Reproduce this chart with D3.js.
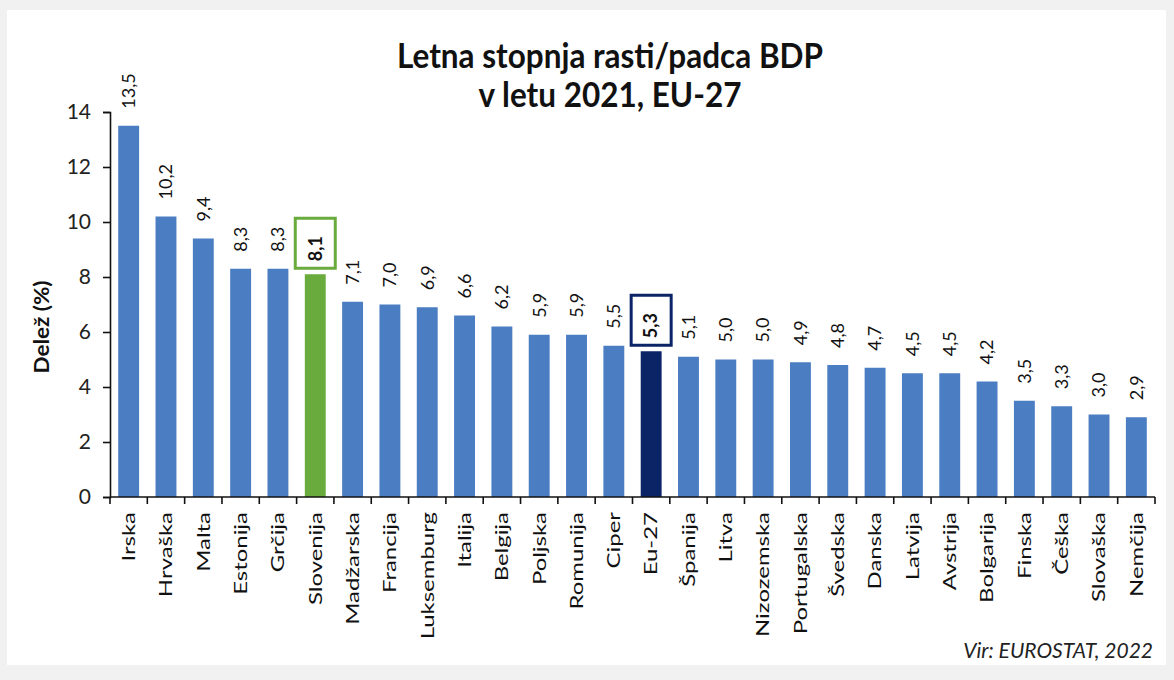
<!DOCTYPE html>
<html>
<head>
<meta charset="utf-8">
<script src="https://cdn.jsdelivr.net/npm/d3@7"></script>
<style>
  html, body { margin: 0; padding: 0; background: #f1f1f1; }
  svg { display: block; }
</style>
</head>
<body>
<svg id="chart" width="1174" height="680"></svg>
<script>
// ---- data ----
const categories = ["Irska","Hrvaška","Malta","Estonija","Grčija","Slovenija","Madžarska","Francija","Luksemburg","Italija","Belgija","Poljska","Romunija","Ciper","Eu-27","Španija","Litva","Nizozemska","Portugalska","Švedska","Danska","Latvija","Avstrija","Bolgarija","Finska","Češka","Slovaška","Nemčija"];
const values = [13.5,10.2,9.4,8.3,8.3,8.1,7.1,7.0,6.9,6.6,6.2,5.9,5.9,5.5,5.3,5.1,5.0,5.0,4.9,4.8,4.7,4.5,4.5,4.2,3.5,3.3,3.0,2.9];
const yTicks = [0,2,4,6,8,10,12,14];
const titleLines = ["Letna stopnja rasti/padca BDP", "v letu 2021, EU-27"];
const yTitle = "Delež (%)";
const sourceText = "Vir: EUROSTAT, 2022";
const highlightGreen = "Slovenija";
const highlightNavy = "Eu-27";

const BLUE = "#4a7dc2", GREEN = "#6aab3e", NAVY = "#0b2465";
const FONT = "Lato, 'Open Sans', sans-serif";

const svg = d3.select("#chart");

// card
svg.append("rect").attr("x", 7).attr("y", 10).attr("width", 1159).attr("height", 655)
  .attr("fill", "#ffffff");

const x = d3.scaleBand().domain(categories).range([110, 1155]).paddingInner(0.44).paddingOuter(0.22);
const y = d3.scaleLinear().domain([0, 14]).range([497, 112]);

const fmt = v => v.toFixed(1).replace(".", ",");
const color = c => c === highlightGreen ? GREEN : (c === highlightNavy ? NAVY : BLUE);

// title
svg.append("g").selectAll("text").data(titleLines).join("text")
  .attr("transform", (d, i) => `translate(610,${68 + i * 39}) scale(1,1.08)`)
  .attr("text-anchor", "middle")
  .attr("font-family", FONT).attr("font-weight", "bold").attr("font-size", 31.5)
  .attr("fill", "#111")
  .text(d => d);

// bars
svg.append("g").selectAll("rect").data(categories).join("rect")
  .attr("x", c => x(c)).attr("width", x.bandwidth())
  .attr("y", (c, i) => y(values[i]))
  .attr("height", (c, i) => y(0) - y(values[i]))
  .attr("fill", c => color(c));

// value label boxes for highlighted
const boxed = [highlightGreen, highlightNavy];
svg.append("g").selectAll("rect").data(boxed).join("rect")
  .attr("x", c => x(c) + x.bandwidth() / 2 - 20)
  .attr("width", 40)
  .attr("y", c => y(values[categories.indexOf(c)]) - 56)
  .attr("height", 50)
  .attr("fill", "#fff")
  .attr("stroke", c => c === highlightGreen ? GREEN : NAVY)
  .attr("stroke-width", 3);

// value labels
svg.append("g").selectAll("text").data(categories).join("text")
  .attr("transform", (c, i) => {
    const cx = x(c) + x.bandwidth() / 2;
    const yy = y(values[i]) - (boxed.includes(c) ? 13 : 17);
    return `translate(${cx},${yy}) rotate(-90)`;
  })
  .attr("dy", "0.35em")
  .attr("text-anchor", "start")
  .attr("font-family", FONT).attr("font-size", 18)
  .attr("font-weight", c => boxed.includes(c) ? "bold" : "normal")
  .attr("fill", "#111")
  .text((c, i) => fmt(values[i]));

// y axis
const yAxis = svg.append("g").attr("transform", "translate(110,0)")
  .call(d3.axisLeft(y).tickValues(yTicks).tickSize(7).tickPadding(12).tickFormat(d3.format("d")));
yAxis.select(".domain").attr("stroke", "#111").attr("stroke-width", 1.6);
yAxis.selectAll(".tick line").attr("stroke", "#111").attr("stroke-width", 1.6);
yAxis.selectAll(".tick text").attr("font-family", FONT).attr("font-size", 21).attr("fill", "#222");

// x axis line
svg.append("line").attr("x1", 110).attr("x2", 1155).attr("y1", y(0)).attr("y2", y(0))
  .attr("stroke", "#111").attr("stroke-width", 1.6);
// x ticks at category boundaries
const gap = (x.step() - x.bandwidth()) / 2;
const bounds = categories.map(c => x(c) - gap).concat([x(categories[categories.length - 1]) + x.bandwidth() + gap]);
svg.append("g").selectAll("line").data(bounds).join("line")
  .attr("x1", d => d).attr("x2", d => d)
  .attr("y1", y(0)).attr("y2", y(0) + 7)
  .attr("stroke", "#111").attr("stroke-width", 1.6);

// x labels
svg.append("g").selectAll("text").data(categories).join("text")
  .attr("transform", c => `translate(${x(c) + x.bandwidth() / 2},${y(0) + 15}) rotate(-90) scale(1.33,1)`)
  .attr("dy", "0.35em")
  .attr("text-anchor", "end")
  .attr("font-family", FONT).attr("font-size", 18)
  .attr("fill", "#111")
  .text(c => c);

// y title
svg.append("text")
  .attr("transform", "translate(42,327) rotate(-90)")
  .attr("dy", "0.35em")
  .attr("text-anchor", "middle")
  .attr("textLength", 93).attr("lengthAdjust", "spacingAndGlyphs")
  .attr("font-family", FONT).attr("font-weight", "bold").attr("font-size", 21)
  .attr("fill", "#111")
  .text(yTitle);

// source
svg.append("text")
  .attr("x", 1153).attr("y", 658)
  .attr("text-anchor", "end")
  .attr("font-family", FONT).attr("font-style", "italic").attr("font-size", 21)
  .attr("fill", "#222")
  .text(sourceText);
</script>
</body>
</html>
